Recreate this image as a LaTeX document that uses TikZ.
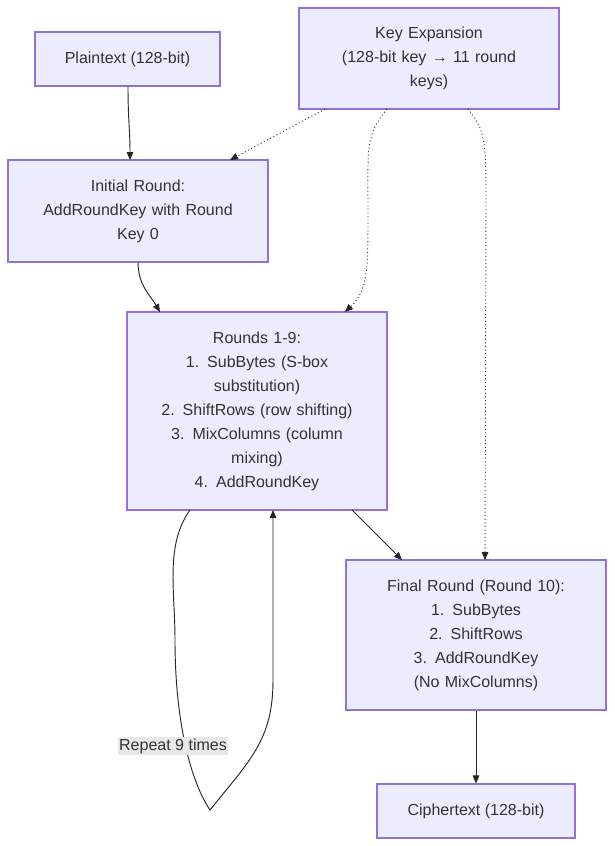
\documentclass[tikz,border=0pt]{standalone}
\usepackage{fontspec}
\setmainfont{Liberation Sans}
\usetikzlibrary{arrows.meta}
\definecolor{nfill}{HTML}{ECECFF}
\definecolor{nline}{HTML}{9370DB}
\definecolor{txt}{HTML}{333333}
\begin{document}
\begin{tikzpicture}[x=0.75pt,y=-0.75pt,
  box/.style={draw=nline,fill=nfill,line width=0.9pt,align=center,text=txt,font=\fontsize{12}{18}\selectfont,inner sep=0pt},
  conn/.style={draw=black!85,line width=0.7pt,-{Triangle[length=6pt,width=5pt]}},
  dot/.style={conn,dotted}]
\useasboundingbox (0,0) rectangle (614,846);
\node[box,minimum width=138.75pt,minimum height=40.5pt] (pt) at (127.5,59) {Plaintext (128-bit)};
\node[box,minimum width=195pt,minimum height=75.75pt,text width=150pt] (ke) at (429,58.5) {Key Expansion\\(128-bit key → 11 round\\keys)};
\node[box,minimum width=195pt,minimum height=76.5pt,text width=160pt] (ir) at (138,211) {Initial Round:\\AddRoundKey with Round\\Key 0};
\node[box,minimum width=195pt,minimum height=148.5pt,text width=160pt] (rd) at (257,411) {Rounds 1-9:\\1. SubBytes (S-box\\substitution)\\2. ShiftRows (row shifting)\\3. MixColumns (column\\mixing)\\4. AddRoundKey};
\node[box,minimum width=195pt,minimum height=112.5pt,text width=160pt] (fr) at (476,635) {Final Round (Round 10):\\1. SubBytes\\2. ShiftRows\\3. AddRoundKey\\(No MixColumns)};
\node[box,minimum width=148.5pt,minimum height=40.5pt] (ct) at (476,811) {Ciphertext (128-bit)};
\coordinate (lb) at (210,810);
\draw[conn] (128,86) .. controls (128,120) and (130,130) .. (130,160);
\draw[dot] (325,109) -- (230,160);
\draw[dot] (387,109) .. controls (365,135) and (368,150) .. (368,210) .. controls (368,270) and (368,290) .. (345,312);
\draw[dot] (468,109) .. controls (485,130) and (486,140) .. (486,200) -- (485,560);
\draw[conn] (138,262) .. controls (138,285) and (150,295) .. (160,312);
\draw[conn] (352,510) -- (402,560);
\draw[conn] (fr.south) -- (ct.north);
\draw[conn] (190,510) .. controls (165,545) and (175,590) .. (175,640) .. controls (175,720) and (190,780) .. (lb) .. controls (250,760) and (273,740) .. (273,680) -- (273,510);
\node[fill=black!9,text=txt,font=\fontsize{12}{14}\selectfont,inner sep=1pt] (lab) at (173,746) {Repeat 9 times};
\end{tikzpicture}
\end{document}
